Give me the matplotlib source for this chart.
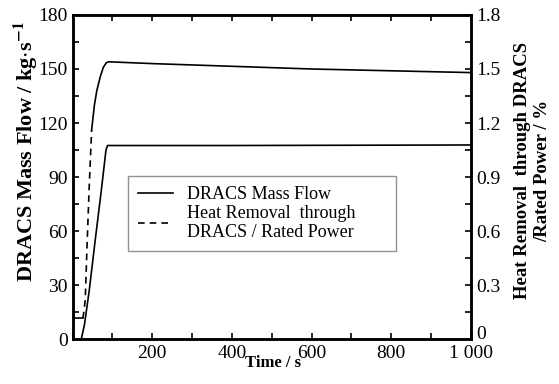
import numpy as np
import matplotlib.pyplot as plt
from matplotlib.lines import Line2D
from matplotlib.ticker import MultipleLocator, FixedLocator, FixedFormatter

plt.rcParams['font.family'] = ['Liberation Serif', 'DejaVu Serif']
plt.rcParams['mathtext.fontset'] = 'stix'

# DRACS mass flow (kg/s) vs time (s)
flow_t = [0, 22, 30, 42, 57, 72, 84, 88, 200, 400, 600, 800, 1000]
flow_v = [0, 0, 8, 27, 55, 82, 105, 107.5, 107.5, 107.5, 107.6, 107.7, 107.8]

# heat removal through DRACS / rated power (%) vs time (s)
heat_t = [0, 26, 29, 32, 37, 42, 48, 55, 61, 70, 77.5, 85, 90, 200, 400, 600, 800, 1000]
heat_v = [0.115, 0.115, 0.16, 0.22, 0.55, 0.85, 1.16, 1.30, 1.38, 1.46, 1.51, 1.535,
          1.54, 1.53, 1.515, 1.50, 1.49, 1.48]
dash_from, dash_to = 26, 48

xticks = [200, 400, 600, 800, 1000]
xtick_labels = ['200', '400', '600', '800', '1 000']

fig = plt.figure(figsize=(5.59, 3.84), dpi=100)
ax = fig.add_axes([0.1297, 0.117, 0.7129, 0.844])
ax2 = ax.twinx()

ax.plot(flow_t, flow_v, color='black', lw=1.2)

ht = np.array(heat_t)
hv = np.array(heat_v)
pre = ht <= dash_from
mid = (ht >= dash_from) & (ht <= dash_to)
post = ht >= dash_to
ax2.plot(ht[pre], hv[pre], color='black', lw=1.2)
ax2.plot(ht[mid], hv[mid], color='black', lw=1.2, ls=(0, (4, 3)))
ax2.plot(ht[post], hv[post], color='black', lw=1.2)

ax.set_xlim(0, 1000)
ax.set_ylim(0, 180)
ax2.set_ylim(0, 1.8)

ax.xaxis.set_major_locator(FixedLocator(xticks))
ax.xaxis.set_major_formatter(FixedFormatter(xtick_labels))
ax.xaxis.set_minor_locator(MultipleLocator(100))
ax.yaxis.set_major_locator(MultipleLocator(30))
ax.yaxis.set_minor_locator(MultipleLocator(15))
ax2.yaxis.set_major_locator(MultipleLocator(0.3))
ax2.yaxis.set_minor_locator(MultipleLocator(0.15))
ax2.yaxis.set_major_formatter(lambda v, pos: f'{v:g}')

for a in (ax, ax2):
    a.tick_params(which='both', direction='in', length=4, width=1.2, labelsize=14)
    for s in a.spines.values():
        s.set_linewidth(1.8)
ax.tick_params(which='both', top=True)
ax.tick_params(axis='x', pad=4)

ax.set_xlabel('Time / s', fontsize=12, fontweight='bold')
ax.xaxis.set_label_coords(0.504, -0.05)
ax.set_ylabel('DRACS Mass Flow / kg$\\cdot$s$^{\\mathbf{-1}}$', fontsize=16,
              fontweight='bold')
ax.yaxis.set_label_coords(-0.081, 0.579)
ax2.set_ylabel('Heat Removal  through DRACS\n/Rated Power / %', fontsize=13.5,
               fontweight='bold', rotation=90, linespacing=1.25)
ax2.yaxis.set_label_coords(1.107, 0.52)

handles = [Line2D([], [], color='black', lw=1.2),
           Line2D([], [], color='black', lw=1.2, ls=(0, (4, 3)))]
labels = ['DRACS Mass Flow', 'Heat Removal  through\nDRACS / Rated Power']
leg = ax.legend(handles, labels, loc='upper left',
                bbox_to_anchor=(0.139, 0.503, 0.6725, 0.0), mode='expand',
                fontsize=13, frameon=True, fancybox=False, handlelength=1.95,
                borderpad=0.55, borderaxespad=0, labelspacing=0.1, handletextpad=0.8)
leg.get_frame().set_edgecolor('#777777')
leg.get_frame().set_linewidth(1.0)

# lift the right-hand zero so it clears the last x label
fig.canvas.draw()
for tick in ax2.yaxis.get_major_ticks():
    if tick.get_loc() == 0:
        tick.label2.set_verticalalignment('baseline')

fig.savefig('out.png', dpi=100)
